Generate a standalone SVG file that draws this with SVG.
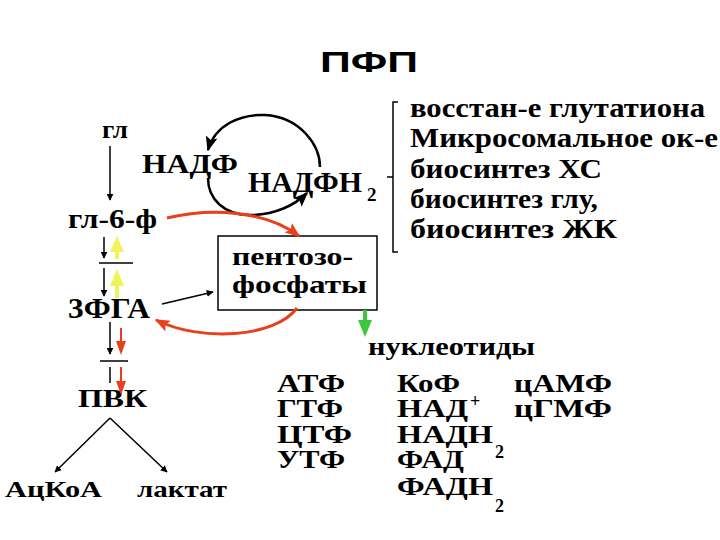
<svg xmlns="http://www.w3.org/2000/svg" width="720" height="540" viewBox="0 0 720 540">
<style>
.t{font-family:"Liberation Serif","DejaVu Serif","Noto Serif","Times New Roman",Times,serif;font-weight:bold;fill:#000}
.s{font-family:"Liberation Sans",Arial,sans-serif;font-weight:bold;fill:#000}
.k{stroke:#000;fill:none;stroke-width:1.5}
.kk{stroke:#000;fill:none;stroke-width:2.5}
.r{stroke:#e8401c;fill:none;stroke-width:3}
</style>
<defs>
<marker id="ak" viewBox="0 0 10 10" refX="9" refY="5" markerWidth="7" markerHeight="7" orient="auto" markerUnits="userSpaceOnUse"><path d="M0,0L10,5L0,10z" fill="#000"/></marker>
<marker id="akb" viewBox="0 0 10 10" refX="9" refY="5" markerWidth="15" markerHeight="15" orient="auto" markerUnits="userSpaceOnUse"><path d="M0,1L10,5L0,9L2,5z" fill="#000"/></marker>
<marker id="ar" viewBox="0 0 10 10" refX="9" refY="5" markerWidth="15" markerHeight="15" orient="auto" markerUnits="userSpaceOnUse"><path d="M0,1L10,5L0,9L2,5z" fill="#e8401c"/></marker>
</defs>
<text class="s" x="320" y="72" font-size="30" textLength="98" lengthAdjust="spacingAndGlyphs">ПФП</text>

<g id="gl"><text class="t" x="102" y="138" font-size="25" textLength="26" lengthAdjust="spacingAndGlyphs">гл</text></g>
<g id="gl6f"><text class="t" x="68" y="228" font-size="27" textLength="89" lengthAdjust="spacingAndGlyphs">гл-6-ф</text></g>
<g id="fga"><text class="t" x="68" y="318" font-size="29" textLength="82" lengthAdjust="spacingAndGlyphs">3ФГА</text></g>
<g id="pvk"><text class="t" x="78" y="407" font-size="25" textLength="69" lengthAdjust="spacingAndGlyphs">ПВК</text></g>
<g id="acoa"><text class="t" x="5" y="497" font-size="23" textLength="97" lengthAdjust="spacingAndGlyphs">АцКоА</text></g>
<g id="lactat"><text class="t" x="137" y="497" font-size="24" textLength="90" lengthAdjust="spacingAndGlyphs">лактат</text></g>
<g id="nadf"><text class="t" x="142" y="173" font-size="28" textLength="96" lengthAdjust="spacingAndGlyphs">НАДФ</text></g>
<g id="nadfh2"><text class="t" x="248" y="192" font-size="30" textLength="114" lengthAdjust="spacingAndGlyphs">НАДФН</text><text class="t" x="367" y="201" font-size="19">2</text></g>
<g id="list">
<path class="k" d="M398,102 L393,102 L393,252 L398,252 M393,177 L387,177"/>
<text class="t" x="410" y="117" font-size="27" textLength="295" lengthAdjust="spacingAndGlyphs">восстан-е глутатиона</text>
<text class="t" x="410" y="147" font-size="27" textLength="308" lengthAdjust="spacingAndGlyphs">Микросомальное ок-е</text>
<text class="t" x="410" y="178" font-size="27" textLength="192" lengthAdjust="spacingAndGlyphs">биосинтез ХС</text>
<text class="t" x="410" y="208" font-size="27" textLength="188" lengthAdjust="spacingAndGlyphs">биосинтез глу,</text>
<text class="t" x="410" y="238" font-size="27" textLength="207" lengthAdjust="spacingAndGlyphs">биосинтез ЖК</text>
</g>
<g id="pentoz">
<rect x="218" y="236" width="159" height="74" fill="#fff" stroke="#000" stroke-width="1.5"/>
<text class="t" x="232" y="265" font-size="26" textLength="121" lengthAdjust="spacingAndGlyphs">пентозо-</text>
<text class="t" x="232" y="293" font-size="26" textLength="135" lengthAdjust="spacingAndGlyphs">фосфаты</text>
</g>
<g id="nukl">
<text class="t" x="368" y="355" font-size="26" textLength="167" lengthAdjust="spacingAndGlyphs">нуклеотиды</text>
<text class="t" x="277" y="392" font-size="25" textLength="68" lengthAdjust="spacingAndGlyphs">АТФ</text>
<text class="t" x="277" y="417" font-size="25" textLength="66" lengthAdjust="spacingAndGlyphs">ГТФ</text>
<text class="t" x="277" y="443" font-size="25" textLength="75" lengthAdjust="spacingAndGlyphs">ЦТФ</text>
<text class="t" x="277" y="468" font-size="25" textLength="68" lengthAdjust="spacingAndGlyphs">УТФ</text>
<text class="t" x="397" y="392" font-size="25" textLength="63" lengthAdjust="spacingAndGlyphs">КоФ</text>
<text class="t" x="397" y="417" font-size="25" textLength="71" lengthAdjust="spacingAndGlyphs">НАД</text>
<text class="t" x="470" y="407" font-size="18">+</text>
<text class="t" x="397" y="443" font-size="25" textLength="96" lengthAdjust="spacingAndGlyphs">НАДН</text>
<text class="t" x="495" y="458" font-size="18">2</text>
<text class="t" x="397" y="468" font-size="25" textLength="67" lengthAdjust="spacingAndGlyphs">ФАД</text>
<text class="t" x="397" y="495" font-size="25" textLength="96" lengthAdjust="spacingAndGlyphs">ФАДН</text>
<text class="t" x="495" y="512" font-size="18">2</text>
<text class="t" x="514" y="392" font-size="25" textLength="98" lengthAdjust="spacingAndGlyphs">цАМФ</text>
<text class="t" x="514" y="417" font-size="25" textLength="98" lengthAdjust="spacingAndGlyphs">цГМФ</text>
</g>

<g id="connectors">
<line class="k" x1="110" y1="146" x2="110" y2="200" marker-end="url(#ak)"/>
<line class="k" x1="104" y1="237" x2="104" y2="258" marker-end="url(#ak)"/>
<line class="k" x1="104" y1="268" x2="104" y2="296" marker-end="url(#ak)"/>
<line stroke="#000" stroke-width="1.5" x1="99" y1="263" x2="133" y2="263"/>
<line stroke="#eef55a" stroke-width="4" x1="117" y1="259" x2="117" y2="249"/>
<path d="M110,252 L117,236 L124,252z" fill="#eef55a"/>
<line stroke="#eef55a" stroke-width="4" x1="117" y1="298" x2="117" y2="282"/>
<path d="M110,286 L117,269 L124,286z" fill="#eef55a"/>
<line class="k" x1="110" y1="322" x2="110" y2="354" marker-end="url(#ak)"/>
<line stroke="#e8401c" stroke-width="2" x1="121" y1="328" x2="121" y2="343"/>
<path d="M116,341 L121,355 L126,341z" fill="#e8401c"/>
<line stroke="#000" stroke-width="1.5" x1="100" y1="361" x2="128" y2="361"/>
<line stroke="#000" stroke-width="1.5" x1="110" y1="367" x2="110" y2="383"/>
<line stroke="#e8401c" stroke-width="2" x1="121" y1="367" x2="121" y2="383"/>
<path d="M116,381 L121,395 L126,381z" fill="#e8401c"/>
<line class="k" x1="110" y1="418" x2="55" y2="472" marker-end="url(#ak)"/>
<line class="k" x1="110" y1="418" x2="167" y2="472" marker-end="url(#ak)"/>
<line class="k" x1="162" y1="304" x2="213" y2="292" marker-end="url(#ak)"/>
<path class="kk" d="M320,167 C320,145 300,117 265,115 C240,114 215,125 208,150" marker-end="url(#akb)"/>
<path class="kk" d="M208,178 C208,200 225,215 250,215 C275,215 295,205 307,193" marker-end="url(#akb)"/>
<path class="r" d="M167,218 C210,208 265,210 299,236" marker-end="url(#ar)"/>
<path class="r" d="M297,308 C275,338 200,342 156,320" marker-end="url(#ar)"/>
<line stroke="#3cc83c" stroke-width="4" x1="365" y1="310" x2="365" y2="324"/>
<path d="M358,320 L365,337 L372,320z" fill="#3cc83c"/>
</g>
</svg>
